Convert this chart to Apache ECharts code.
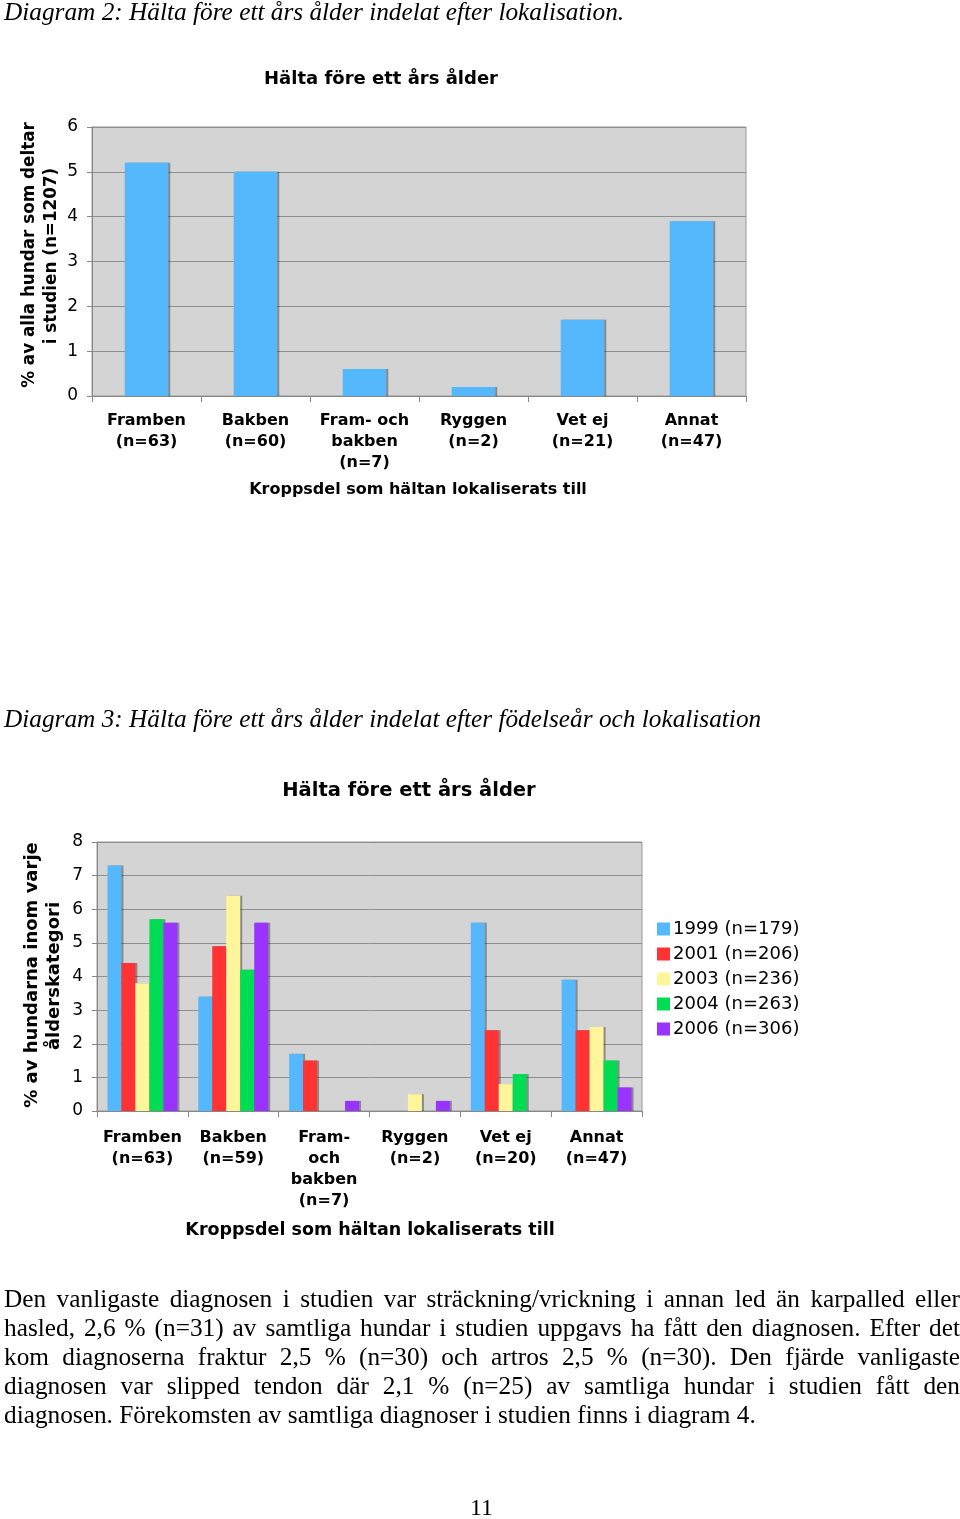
<!DOCTYPE html>
<html><head><meta charset="utf-8">
<script src="https://cdn.jsdelivr.net/npm/echarts@6/dist/echarts.min.js"></script>
<style>
html,body{margin:0;padding:0;background:#fff;}
#page{position:relative;width:960px;height:1519px;overflow:hidden;}
#chart{position:absolute;left:0;top:0;width:960px;height:1519px;}
.t{position:absolute;font-family:"Liberation Serif","Times New Roman",serif;color:#000;white-space:nowrap;z-index:2;}
.cap{font-style:italic;font-size:25.3px;}
.para{position:absolute;left:4px;top:1284px;width:956px;font-family:"Liberation Serif",serif;font-size:25.3px;line-height:29px;z-index:2;}
.para div{text-align:justify;text-align-last:justify;white-space:nowrap;}
.para div.last{text-align-last:left;}
</style></head>
<body><div id="page">
<div id="chart"></div>
<div class="t cap" style="left:4px;top:-3px;">Diagram 2: Hälta före ett års ålder indelat efter lokalisation.</div>
<div class="t cap" style="left:4px;top:704px;">Diagram 3: Hälta före ett års ålder indelat efter födelseår och lokalisation</div>
<div class="para">
<div>Den vanligaste diagnosen i studien var sträckning/vrickning i annan led än karpalled eller</div>
<div>hasled, 2,6 % (n=31) av samtliga hundar i studien uppgavs ha fått den diagnosen. Efter det</div>
<div>kom diagnoserna fraktur 2,5 % (n=30) och artros 2,5 % (n=30). Den fjärde vanligaste</div>
<div>diagnosen var slipped tendon där 2,1 % (n=25) av samtliga hundar i studien fått den</div>
<div class="last">diagnosen. Förekomsten av samtliga diagnoser i studien finns i diagram 4.</div>
</div>
<div class="t" style="left:470px;top:1494px;font-size:24px;">11</div>
</div>
<script>
// Chart 1 data
const cats1 = ["Framben\n(n=63)", "Bakben\n(n=60)", "Fram- och\nbakben\n(n=7)", "Ryggen\n(n=2)", "Vet ej\n(n=21)", "Annat\n(n=47)"];
const vals1 = [5.2, 5.0, 0.6, 0.2, 1.7, 3.9];
const ticks1 = [0, 1, 2, 3, 4, 5, 6];

// Chart 2 data
const cats2 = ["Framben\n(n=63)", "Bakben\n(n=59)", "Fram-\noch\nbakben\n(n=7)", "Ryggen\n(n=2)", "Vet ej\n(n=20)", "Annat\n(n=47)"];
const seriesNames = ["1999 (n=179)", "2001 (n=206)", "2003 (n=236)", "2004 (n=263)", "2006 (n=306)"];
const s1999 = [7.3, 3.4, 1.7, 0, 5.6, 3.9];
const s2001 = [4.4, 4.9, 1.5, 0, 2.4, 2.4];
const s2003 = [3.8, 6.4, 0, 0.5, 0.8, 2.5];
const s2004 = [5.7, 4.2, 0, 0, 1.1, 1.5];
const s2006 = [5.6, 5.6, 0.3, 0.3, 0, 0.7];
const ticks2 = [0, 1, 2, 3, 4, 5, 6, 7, 8];

const colors2 = ["#55b8fc", "#ff3333", "#fff59a", "#00dd55", "#9933ff"];
const FONT = '"DejaVu Sans", Verdana, sans-serif';

const chart = echarts.init(document.getElementById('chart'), null, {renderer: 'canvas'});

const barShadow = {shadowColor: 'rgba(0,0,0,0.35)', shadowOffsetX: 2, shadowOffsetY: 0, shadowBlur: 0};

function yAx(idx, max) {
  return {
    gridIndex: idx, type: 'value', min: 0, max: max, interval: 1,
    axisLine: {show: true, lineStyle: {color: '#888', width: 1}},
    axisTick: {show: true, length: 5, lineStyle: {color: '#888'}},
    axisLabel: {color: '#000', fontFamily: FONT, fontSize: 17, margin: 14},
    splitLine: {show: true, lineStyle: {color: '#8f8f8f', width: 1}}
  };
}
function xAx(idx, cats, margin) {
  return {
    gridIndex: idx, type: 'category', data: cats,
    axisLine: {show: true, lineStyle: {color: '#888', width: 1}},
    axisTick: {show: true, length: 6, alignWithLabel: false, lineStyle: {color: '#888'}},
    axisLabel: {color: '#000', fontFamily: FONT, fontSize: 16, fontWeight: 'bold', lineHeight: 21, margin: margin, interval: 0}
  };
}

const series2 = [s1999, s2001, s2003, s2004, s2006].map((d, i) => ({
  name: seriesNames[i], type: 'bar', xAxisIndex: 1, yAxisIndex: 1, data: d,
  barGap: '0%', barCategoryGap: '23%',
  itemStyle: Object.assign({color: colors2[i]}, barShadow)
}));

const option = {
  animation: false,
  grid: [
    {left: 92, top: 127, width: 654, height: 269, show: true, backgroundColor: '#d4d4d4', borderColor: '#999', borderWidth: 1},
    {left: 97, top: 842, width: 545, height: 269, show: true, backgroundColor: '#d4d4d4', borderColor: '#999', borderWidth: 1}
  ],
  xAxis: [xAx(0, cats1, 14), xAx(1, cats2, 16)],
  yAxis: [yAx(0, 6), yAx(1, 8)],
  legend: {
    data: seriesNames, orient: 'vertical', left: 652, top: 915,
    itemWidth: 13, itemHeight: 13, itemGap: 7, icon: 'rect',
    textStyle: {fontFamily: FONT, fontSize: 18, color: '#000', padding: [0, 0, 0, -2]}
  },
  series: [
    {type: 'bar', xAxisIndex: 0, yAxisIndex: 0, data: vals1, barWidth: '40%',
     itemStyle: Object.assign({color: '#55b8fc'}, barShadow)}
  ].concat(series2),
  graphic: [
    {type: 'text', x: 381, y: 79, style: {text: 'Hälta före ett års ålder', font: 'bold 18px ' + FONT, fill: '#000', textAlign: 'center', textVerticalAlign: 'middle'}},
    {type: 'text', x: 418, y: 490, style: {text: 'Kroppsdel som hältan lokaliserats till', font: 'bold 16px ' + FONT, fill: '#000', textAlign: 'center', textVerticalAlign: 'middle'}},
    {type: 'text', x: 30, y: 255, rotation: Math.PI / 2, style: {text: '% av alla hundar som deltar', font: 'bold 16.8px ' + FONT, fill: '#000', textAlign: 'center', textVerticalAlign: 'middle'}},
    {type: 'text', x: 52, y: 256, rotation: Math.PI / 2, style: {text: 'i studien (n=1207)', font: 'bold 16.8px ' + FONT, fill: '#000', textAlign: 'center', textVerticalAlign: 'middle'}},
    {type: 'text', x: 409, y: 791, style: {text: 'Hälta före ett års ålder', font: 'bold 19.5px ' + FONT, fill: '#000', textAlign: 'center', textVerticalAlign: 'middle'}},
    {type: 'text', x: 370, y: 1230, style: {text: 'Kroppsdel som hältan lokaliserats till', font: 'bold 17.5px ' + FONT, fill: '#000', textAlign: 'center', textVerticalAlign: 'middle'}},
    {type: 'text', x: 32, y: 975, rotation: Math.PI / 2, style: {text: '% av hundarna inom varje', font: 'bold 18px ' + FONT, fill: '#000', textAlign: 'center', textVerticalAlign: 'middle'}},
    {type: 'text', x: 54, y: 976, rotation: Math.PI / 2, style: {text: 'ålderskategori', font: 'bold 18px ' + FONT, fill: '#000', textAlign: 'center', textVerticalAlign: 'middle'}}
  ]
};
chart.setOption(option);
</script>
</body></html>
